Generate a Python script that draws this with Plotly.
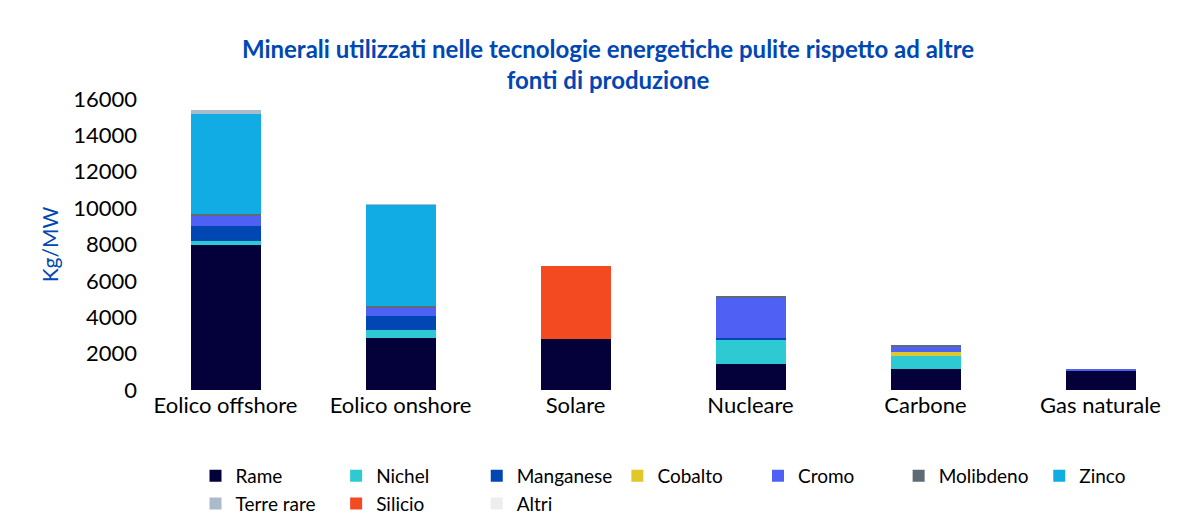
import plotly.graph_objects as go

categorie = ["Eolico offshore", "Eolico onshore", "Solare", "Nucleare", "Carbone", "Gas naturale"]
rame = [8000, 2880, 2815, 1450, 1150, 1085]
nichel = [210, 400, 10, 1320, 710, 0]
manganese = [800, 780, 0, 110, 0, 0]
cobalto = [0, 0, 0, 0, 215, 0]
cromo = [530, 500, 0, 2220, 310, 40]
molibdeno = [110, 80, 0, 70, 60, 0]
zinco = [5500, 5550, 0, 0, 0, 0]
terre_rare = [250, 14, 0, 0, 0, 0]
silicio = [0, 0, 3980, 0, 0, 0]
altri = [0, 0, 0, 0, 0, 0]

serie = [
    ("Rame", rame, "#03003a"),
    ("Nichel", nichel, "#2ecad3"),
    ("Manganese", manganese, "#0047b3"),
    ("Cobalto", cobalto, "#e0c72a"),
    ("Cromo", cromo, "#4f61f5"),
    ("Molibdeno", molibdeno, "#5f6b73"),
    ("Zinco", zinco, "#10ace3"),
    ("Terre rare", terre_rare, "#aabccb"),
    ("Silicio", silicio, "#f44a21"),
    ("Altri", altri, "#eeeeee"),
]

fig = go.Figure()
for nome, vals, col in serie:
    fig.add_trace(go.Bar(x=categorie, y=vals, name=nome, marker_color=col,
                         marker_line_width=0, width=0.4))

fig.update_layout(
    barmode="stack",
    width=1200, height=527,
    paper_bgcolor="white", plot_bgcolor="white",
    font=dict(family="Lato, Open Sans, sans-serif", color="black", size=21),
    title=dict(text="<b>Minerali utilizzati nelle tecnologie energetiche pulite rispetto ad altre<br>fonti di produzione</b>",
               x=0.5, xanchor="center", yref="container", y=0.905, yanchor="middle",
               font=dict(size=24, color="#0047b3")),
    margin=dict(l=130, r=20, t=91, b=112),
    yaxis=dict(range=[0, 16000], dtick=2000, showgrid=False, zeroline=False,
               tickformat="d",
               title=dict(text="Kg/MW", font=dict(color="#0047b3", size=21), standoff=8),
               tickfont=dict(size=22), ticks="", showline=False),
    xaxis=dict(tickfont=dict(size=22), showline=False, ticks=""),
    legend=dict(orientation="h", x=0.5, xanchor="center", y=-0.23, yanchor="top",
                font=dict(size=19), itemwidth=30, traceorder="normal"),
)
fig.write_html("out.html")
